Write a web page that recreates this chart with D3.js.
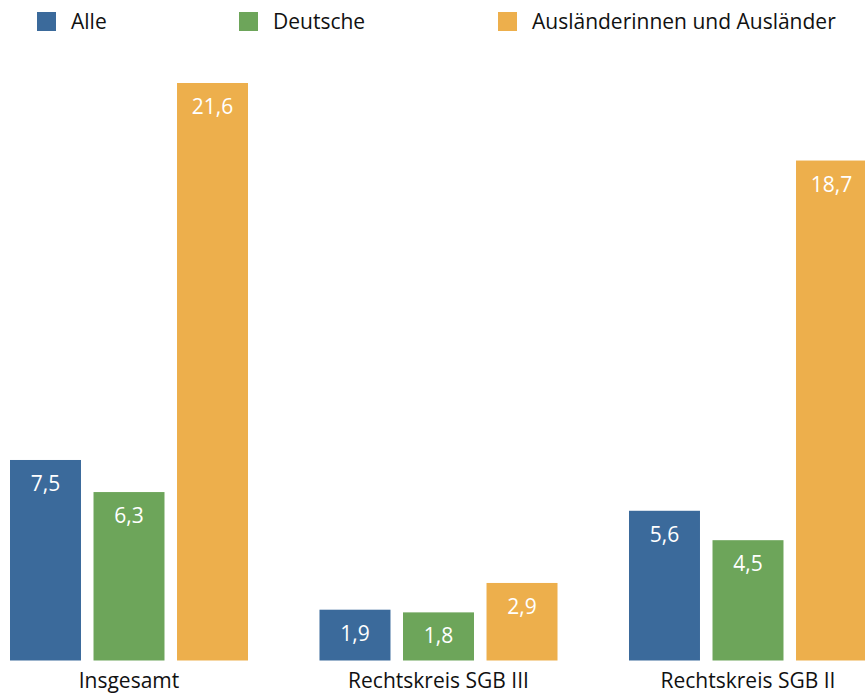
<!DOCTYPE html>
<html>
<head>
<meta charset="utf-8">
<script src="https://cdn.jsdelivr.net/npm/d3@7"></script>
<style>
  html, body { margin: 0; padding: 0; background: #fff; }
  svg { display: block; font-family: "Open Sans", "Noto Sans", sans-serif; }
</style>
</head>
<body>
<svg id="chart" width="865" height="693"></svg>
<script>
// Kategorien und Reihen
const categories = ["Insgesamt", "Rechtskreis SGB III", "Rechtskreis SGB II"];
const seriesNames = ["Alle", "Deutsche", "Ausländerinnen und Ausländer"];
const alle = [7.5, 1.9, 5.6];
const deutsche = [6.3, 1.8, 4.5];
const auslaender = [21.6, 2.9, 18.7];
const seriesColors = ["#3b6a9b", "#6da55a", "#edaf4c"];

const seriesValues = [alle, deutsche, auslaender];
const rows = categories.map((c, i) => ({
  category: c,
  values: seriesNames.map((s, j) => ({ series: s, value: seriesValues[j][i], color: seriesColors[j] }))
}));

const svg = d3.select("#chart");
const fmt = v => d3.format(".1f")(v).replace(".", ",");

const x0 = d3.scaleBand().domain(categories).range([10, 867]).paddingInner(0.231).paddingOuter(0);
const x1 = d3.scaleBand().domain(seriesNames).range([0, x0.bandwidth()]).paddingInner(0.15).paddingOuter(0);
const y = d3.scaleLinear().domain([0, 21.6]).range([660.5, 83]);

// Balken
const groups = svg.append("g").selectAll("g")
  .data(rows).join("g")
  .attr("transform", d => `translate(${x0(d.category)},0)`);

groups.selectAll("rect")
  .data(d => d.values).join("rect")
  .attr("x", d => x1(d.series))
  .attr("y", d => y(d.value))
  .attr("width", x1.bandwidth())
  .attr("height", d => y(0) - y(d.value))
  .attr("fill", d => d.color);

// Werte in den Balken
groups.selectAll("text")
  .data(d => d.values).join("text")
  .attr("x", d => x1(d.series) + x1.bandwidth() / 2)
  .attr("y", d => y(d.value) + 31)
  .attr("text-anchor", "middle")
  .attr("fill", "#fff")
  .attr("font-size", 21)
  .text(d => fmt(d.value));

// Kategorienachse
svg.append("g").selectAll("text")
  .data(categories).join("text")
  .attr("x", d => x0(d) + x0.bandwidth() / 2)
  .attr("y", 688)
  .attr("text-anchor", "middle")
  .attr("fill", "#111")
  .attr("font-size", 21)
  .text(d => d);

// Legende
const legendX = [37, 239, 498];
const legend = svg.append("g").selectAll("g")
  .data(seriesNames).join("g")
  .attr("transform", (d, i) => `translate(${legendX[i]},12)`);
legend.append("rect")
  .attr("width", 19).attr("height", 19)
  .attr("fill", (d, i) => seriesColors[i]);
legend.append("text")
  .attr("x", 34).attr("y", 16.5)
  .attr("fill", "#111")
  .attr("font-size", 21)
  .text(d => d);
</script>
</body>
</html>
